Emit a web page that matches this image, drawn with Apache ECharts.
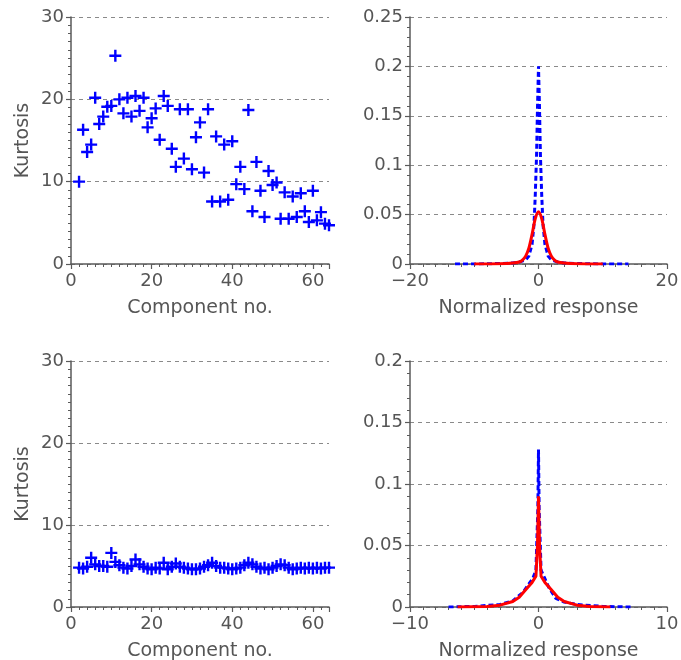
<!DOCTYPE html>
<html>
<head>
<meta charset="utf-8">
<script src="https://cdn.jsdelivr.net/npm/echarts@6/dist/echarts.min.js"></script>
<style>
html,body{margin:0;padding:0;background:#fff;}
#c{width:681px;height:660px;}
</style>
</head>
<body>
<div id="c"></div>
<script>
// ---- data ----
var componentNo = [2,3,4,5,6,7,8,9,10,11,12,13,14,15,16,17,18,19,20,21,22,23,24,25,26,27,28,29,30,31,32,33,34,35,36,37,38,39,40,41,42,43,44,45,46,47,48,49,50,51,52,53,54,55,56,57,58,59,60,61,62,63,64];
var kurtosisTop = [10.0,16.3,13.6,14.5,20.2,17.0,17.9,19.1,19.2,25.3,20.0,18.3,20.2,17.9,20.4,18.6,20.2,16.6,17.7,18.9,15.1,20.4,19.2,14.0,11.8,18.8,12.8,18.8,11.5,15.4,17.2,11.1,18.8,7.6,15.5,7.6,14.5,7.8,14.9,9.7,11.8,9.1,18.7,6.4,12.4,8.9,5.7,11.3,9.6,9.9,5.5,8.7,5.5,8.2,5.7,8.6,6.4,5.1,8.9,5.3,6.3,4.9,4.7];
var kurtosisBottom = [4.8,4.7,4.9,6.0,5.2,5.0,5.0,4.9,6.6,5.5,5.1,4.8,4.7,5.0,5.8,5.2,4.9,4.7,4.6,4.8,4.7,5.4,4.6,4.9,5.3,4.9,4.8,4.7,4.6,4.6,4.7,4.9,5.1,5.4,5.0,4.8,4.8,4.7,4.6,4.7,4.8,5.1,5.4,5.2,4.9,4.7,4.8,4.6,4.8,5.0,5.2,5.1,4.8,4.6,4.7,4.8,4.7,4.8,4.7,4.8,4.7,4.8,4.8];

var respXTopBlue = [-13,-10,-6,-4,-3,-2,-1.5,-1,-0.7,-0.5,-0.3,-0.15,0,0.15,0.3,0.5,0.7,1,1.5,2,3,4,6,10,14];
var respYTopBlue = [0,0,0.0005,0.001,0.002,0.004,0.008,0.02,0.04,0.07,0.11,0.16,0.2,0.16,0.11,0.07,0.04,0.02,0.008,0.004,0.002,0.001,0.0005,0,0];
var respXTopRed = [-10,-6,-4,-3,-2.5,-2,-1.5,-1,-0.5,0,0.5,1,1.5,2,2.5,3,4,6,10];
var respYTopRed = [0,0.0003,0.001,0.002,0.004,0.008,0.016,0.03,0.046,0.053,0.046,0.03,0.016,0.008,0.004,0.002,0.001,0.0003,0];

var respXBotBlue = [-7,-5,-3,-2,-1.2,-0.8,-0.45,-0.2,-0.05,0,0.05,0.2,0.5,0.8,1.35,2,3,5,7.2];
var respYBotBlue = [0,0.0005,0.002,0.005,0.012,0.018,0.023,0.03,0.08,0.128,0.08,0.03,0.023,0.016,0.007,0.004,0.002,0.0005,0];
var respXBotRed = [-6.3,-4,-3,-2,-1.5,-1,-0.5,-0.2,-0.08,0,0.08,0.2,0.5,1,1.5,2,3,4,5.6];
var respYBotRed = [0,0.0005,0.0015,0.0045,0.008,0.014,0.02,0.025,0.05,0.09,0.05,0.025,0.02,0.014,0.008,0.0045,0.0015,0.0005,0];

function zip(a,b){var r=[];for(var i=0;i<a.length;i++)r.push([a[i],b[i]]);return r;}

var FONT = 'DejaVu Sans';
var AX = '#5a5a5a';
var TXT = '#555';
var plus = 'path://M4,0H6V4H10V6H6V10H4V6H0V4H4Z';

function xAxis(idx,min,max,interval,name,showMax){
  return {
    type:'value', gridIndex:idx, min:min, max:max, interval:interval,
    name:name, nameLocation:'middle', nameGap:35,
    nameTextStyle:{fontFamily:FONT,fontSize:19,color:TXT},
    axisLine:{onZero:false,lineStyle:{color:AX,width:1.5}},
    axisTick:{show:true,inside:false,length:5,lineStyle:{color:AX,width:1.2}},
    minorTick:{show:true,splitNumber:10,length:3,lineStyle:{color:AX,width:1}},
    axisLabel:{fontFamily:FONT,fontSize:18,color:TXT,margin:8,showMaxLabel:showMax,showMinLabel:true,
      formatter:function(v){return String(v).replace('-','\u2212');}},
    splitLine:{show:false}
  };
}
function yAxis(idx,min,max,interval,minorSplit,name){
  return {
    type:'value', gridIndex:idx, min:min, max:max, interval:interval,
    name:name, nameLocation:'middle', nameGap:38,
    nameTextStyle:{fontFamily:FONT,fontSize:19,color:TXT},
    axisLine:{show:true,onZero:false,lineStyle:{color:AX,width:1.5}},
    axisTick:{show:true,inside:false,length:5,lineStyle:{color:AX,width:1.2}},
    minorTick:{show:true,splitNumber:minorSplit,length:3,lineStyle:{color:AX,width:1}},
    axisLabel:{fontFamily:FONT,fontSize:18,color:TXT,margin:7,showMaxLabel:true,showMinLabel:true},
    splitLine:{show:true,lineStyle:{color:'#8a8a8a',type:[4,4],width:1}}
  };
}

var chart = echarts.init(document.getElementById('c'),null,{renderer:'canvas'});
chart.setOption({
  backgroundColor:'#fff',
  animation:false,
  grid:[
    {left:71,top:17,width:258,height:247,outerBoundsMode:'none'},
    {left:410,top:17,width:257,height:247,outerBoundsMode:'none'},
    {left:71,top:361,width:258,height:246,outerBoundsMode:'none'},
    {left:410,top:361,width:257,height:246,outerBoundsMode:'none'}
  ],
  xAxis:[
    xAxis(0,0,64,20,'Component no.',false),
    xAxis(1,-20,20,20,'Normalized response',true),
    xAxis(2,0,64,20,'Component no.',false),
    xAxis(3,-10,10,10,'Normalized response',true)
  ],
  yAxis:[
    yAxis(0,0,30,10,10,'Kurtosis'),
    yAxis(1,0,0.25,0.05,5,''),
    yAxis(2,0,30,10,10,'Kurtosis'),
    yAxis(3,0,0.2,0.05,5,'')
  ],
  series:[
    {type:'scatter',xAxisIndex:0,yAxisIndex:0,data:zip(componentNo,kurtosisTop),symbol:plus,symbolSize:12,itemStyle:{color:'#0000ff',opacity:1}},
    {type:'scatter',xAxisIndex:2,yAxisIndex:2,data:zip(componentNo,kurtosisBottom),symbol:plus,symbolSize:12,itemStyle:{color:'#0000ff',opacity:1}},
    {type:'line',xAxisIndex:1,yAxisIndex:1,data:zip(respXTopBlue,respYTopBlue),showSymbol:false,lineStyle:{color:'#0000ff',width:3,type:[5,3]}},
    {type:'line',xAxisIndex:1,yAxisIndex:1,data:zip(respXTopRed,respYTopRed),showSymbol:false,smooth:0.3,lineStyle:{color:'#ff0000',width:3}},
    {type:'line',xAxisIndex:3,yAxisIndex:3,data:zip(respXBotBlue,respYBotBlue),showSymbol:false,lineStyle:{color:'#0000ff',width:3,type:[5,3]}},
    {type:'line',xAxisIndex:3,yAxisIndex:3,data:zip(respXBotRed,respYBotRed),showSymbol:false,lineStyle:{color:'#ff0000',width:3}}
  ]
});
</script>
</body>
</html>
